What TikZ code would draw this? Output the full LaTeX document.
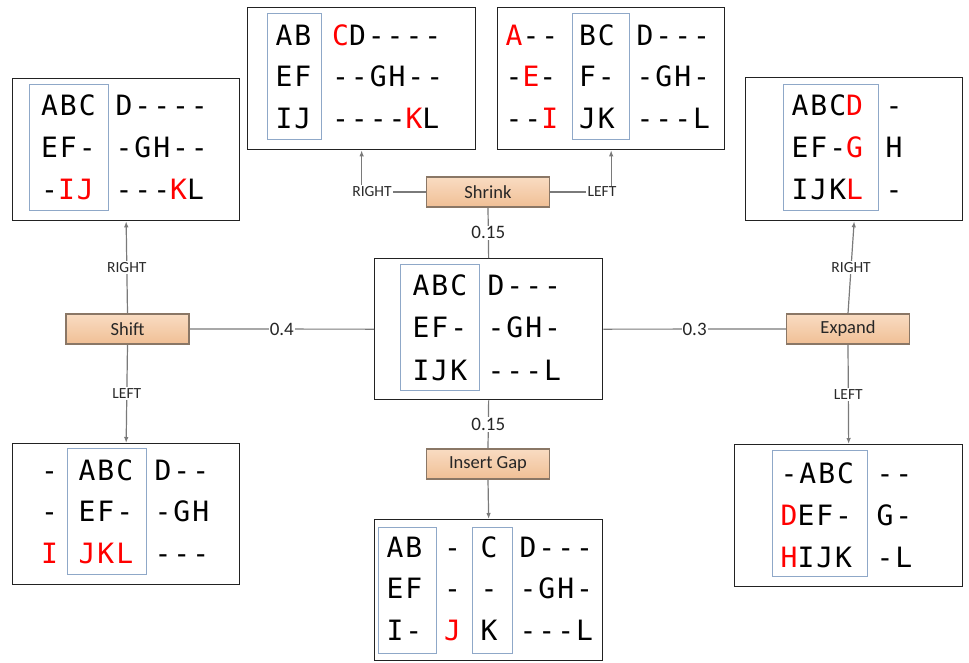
\documentclass[tikz,border=0pt]{standalone}
\usepackage{fontspec}
\usetikzlibrary{arrows.meta}
\newfontfamily\monof[LetterSpace=7]{DejaVu Sans Mono}
\newfontfamily\lblf{Carlito}
\definecolor{boxline}{HTML}{222222}
\definecolor{blueline}{HTML}{8FA8C8}
\definecolor{connline}{HTML}{7A7A7A}
\definecolor{acttop}{HTML}{F9DCC2}
\definecolor{actbot}{HTML}{F0BF95}
\definecolor{actline}{HTML}{8A7766}
\definecolor{lbltext}{HTML}{2A2A2A}
\newcommand{\R}[1]{\textcolor{red}{#1}}
\newcommand{\threerows}[7]{%
  \node[mono] (#1-1) at (#2,#3) {#5};
  \node[mono] (#1-2) at (#2,#3+#4) {#6};
  \node[mono] (#1-3) at (#2,#3+2*#4) {#7};}
\tikzset{
  mono/.style={anchor=base west, inner sep=0pt, font=\monof\fontsize{28}{30}\selectfont},
  statebox/.style={draw=boxline, line width=1.3pt, anchor=north west, inner sep=0pt, fill=none},
  bluebox/.style={draw=blueline, line width=1pt},
  action/.style={draw=actline, line width=1.2pt, top color=acttop, bottom color=actbot,
    minimum width=123pt, minimum height=30pt, inner sep=0pt, text=black!85,
    font=\lblf\fontsize{18.5}{20}\selectfont},
  conn/.style={draw=connline, line width=1.2pt},
  arr/.style={conn, -{Latex[length=6pt,width=4.5pt]}},
  weight/.style={fill=white, inner sep=1pt, text=black!85, font=\lblf\fontsize{19}{21}\selectfont},
  dirlbl/.style={fill=white, inner sep=1.5pt, text=lbltext, font=\lblf\fontsize{15.5}{17}\selectfont},
}
\begin{document}
\begin{tikzpicture}[x=1pt,y=-1pt]
\useasboundingbox[fill=white] (0,0) rectangle (969,662);

% state boxes
\node[statebox, minimum width=228pt, minimum height=141pt] (c)  at (374,258) {};
\node[statebox, minimum width=227pt, minimum height=142pt] (tl) at (12,78) {};
\node[statebox, minimum width=228pt, minimum height=142pt] (tm) at (247,7) {};
\node[statebox, minimum width=227pt, minimum height=142pt] (tr) at (497,7) {};
\node[statebox, minimum width=217pt, minimum height=143pt] (er) at (745,77) {};
\node[statebox, minimum width=227pt, minimum height=141pt] (bl) at (12,443) {};
\node[statebox, minimum width=228pt, minimum height=141pt] (bm) at (374,519) {};
\node[statebox, minimum width=228pt, minimum height=142pt] (br) at (734,444) {};

% action nodes
\node[action] (shift)  at (127.5,329) {Shift};
\node[action] (shrink) at (488,192) {Shrink};
\node[action] (gap)    at (488,464) {Insert Gap};
\node[action] (expand) at (848,329) {Expand};

% connectors
\draw[conn] (shift.east) -- (c.west) node[weight, midway] (w1) {0.4};
\draw[conn] (c.east) -- (expand.west) node[weight, midway] (w2) {0.3};
\draw[conn] (shrink.south) -- (c.north) node[weight, midway] (w3) {0.15};
\draw[conn] (c.south) -- (gap.north) node[weight, midway] (w4) {0.15};
\draw[arr] (gap.south) -- (bm.north);
\draw[arr] (shift.north) -- (tl.south) node[dirlbl, midway] (l1) {RIGHT};
\draw[arr] (shift.south) -- (bl.north) node[dirlbl, midway] (l2) {LEFT};
\draw[arr] (expand.north) -- (er.south) node[dirlbl, midway] (l3) {RIGHT};
\draw[arr] (expand.south) -- (br.north) node[dirlbl, midway] (l4) {LEFT};
\draw[arr] (shrink.west) -| (tm.south);
\draw[arr] (shrink.east) -| (tr.south);
\node[dirlbl] (l5) at (372,192) {RIGHT};
\node[dirlbl] (l6) at (602,192) {LEFT};

% blue inner boxes
\draw[bluebox] (29,84) rectangle (108,210);
\draw[bluebox] (267,13) rectangle (321,139);
\draw[bluebox] (572,13) rectangle (629,139);
\draw[bluebox] (783,84) rectangle (878,210);
\draw[bluebox] (400,264) rectangle (479,390);
\draw[bluebox] (67,448) rectangle (146,574);
\draw[bluebox] (378,527) rectangle (436,653);
\draw[bluebox] (472,527) rectangle (512,653);
\draw[bluebox] (772,450) rectangle (867,576);

% texts
\threerows{ca}{412.5}{295}{42.5}{ABC}{EF-}{IJK}
\threerows{cb}{487.5}{295}{42.5}{D---}{-GH-}{---L}

\threerows{tla}{41}{115}{42}{ABC}{EF-}{-\R{IJ}}
\threerows{tlb}{115.5}{115}{42}{D----}{-GH--}{---\R{K}L}

\threerows{tma}{275.5}{45}{41.5}{AB}{EF}{IJ}
\threerows{tmb}{332}{45}{41.5}{\R{C}D----}{--GH--}{----\R{K}L}

\threerows{tra}{505.5}{45}{41.5}{\R{A}--}{-\R{E}-}{--\R{I}}
\threerows{trb}{579}{45}{41.5}{BC}{F-}{JK}
\threerows{trc}{636.5}{45}{41.5}{D---}{-GH-}{---L}

\threerows{era}{791.5}{115}{42}{ABC\R{D}}{EF-\R{G}}{IJK\R{L}}
\threerows{erb}{885.5}{115}{42}{-}{H}{-}

\threerows{bla}{41}{480}{41.5}{-}{-}{\R{I}}
\threerows{blb}{78.5}{480}{41.5}{ABC}{EF-}{\R{JKL}}
\threerows{blc}{154.5}{480}{41.5}{D--}{-GH}{---}

\threerows{bma}{386.5}{557}{41.5}{AB}{EF}{I-}
\threerows{bmb}{444}{557}{41.5}{-}{-}{\R{J}}
\threerows{bmc}{480.5}{557}{41.5}{C}{-}{K}
\threerows{bmd}{519.5}{557}{41.5}{D---}{-GH-}{---L}

\threerows{bra}{780.5}{483}{42}{-ABC}{\R{D}EF-}{\R{H}IJK}
\threerows{brb}{876.5}{483}{42}{--}{G-}{-L}
\end{tikzpicture}
\end{document}
